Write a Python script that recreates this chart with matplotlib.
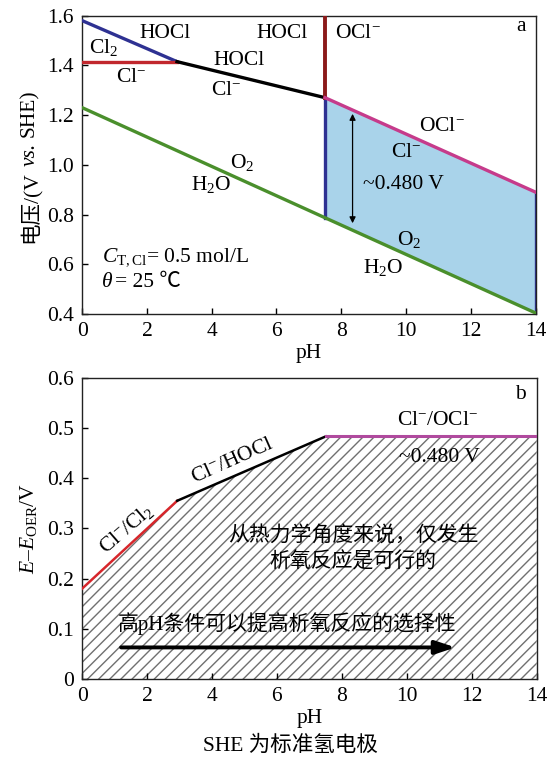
import matplotlib
matplotlib.use("Agg")
import matplotlib.pyplot as plt

plt.rcParams["font.family"] = ["Liberation Serif", "Noto Sans CJK SC"]
plt.rcParams["mathtext.fontset"] = "custom"
plt.rcParams["mathtext.rm"] = "Liberation Serif"
plt.rcParams["mathtext.it"] = "Liberation Serif:italic"
plt.rcParams["mathtext.bf"] = "Liberation Serif:bold"
plt.rcParams["hatch.linewidth"] = 1.0

FS = 15.5
CJK = ["Liberation Serif", "Noto Sans CJK SC"]

# ---- panel a: Pourbaix lines (pH, E vs SHE) ----
cl2_hocl_ph = [0, 2.93]
cl2_hocl_E = [1.58, 1.415]
cl2_cl_ph = [0, 2.93]
cl2_cl_E = [1.415, 1.415]
hocl_cl_ph = [2.93, 7.5]
hocl_cl_E = [1.415, 1.27]
hocl_ocl_ph = [7.5, 7.5]
hocl_ocl_E = [1.27, 1.6]
ocl_cl_ph = [7.5, 14]
ocl_cl_E = [1.27, 0.89]
oer_ph = [0, 7.5, 14]
oer_E = [1.23, 0.787, 0.404]
gap_ph = [7.5, 14]
gap_low = [0.787, 0.404]
gap_high = [1.27, 0.89]

# ---- panel b: E - E_OER ----
b_ph = [0, 2.93, 7.5, 14]
b_dE = [0.18, 0.355, 0.483, 0.483]

xticks = [0, 2, 4, 6, 8, 10, 12, 14]
a_yticks = [0.4, 0.6, 0.8, 1.0, 1.2, 1.4, 1.6]
b_yticks = [0, 0.1, 0.2, 0.3, 0.4, 0.5, 0.6]
b_ylabels = ["0", "0.1", "0.2", "0.3", "0.4", "0.5", "0.6"]

fig = plt.figure(figsize=(5.51, 7.63), dpi=100)
ax1 = fig.add_axes([0.149, 0.5885, 0.823, 0.391])
ax2 = fig.add_axes([0.149, 0.110, 0.825, 0.395])

for ax in (ax1, ax2):
    ax.set_xlim(0, 14)
    ax.set_xticks(xticks)
    ax.tick_params(direction="in", length=4, width=1, labelsize=FS, pad=6,
                   top=False, right=False)
    for s in ax.spines.values():
        s.set_linewidth(1.0)
        s.set_color("#222222")

# panel a
ax1.set_ylim(0.4, 1.6)
ax1.set_yticks(a_yticks)
ax1.set_yticklabels([f"{v:.1f}" for v in a_yticks])
ax1.fill_between(gap_ph, gap_low, gap_high, color="#a9d3ea", lw=0, zorder=1)
lw = 2.4
ax1.plot(oer_ph, oer_E, color="#4a8f2c", lw=lw, zorder=3)
ax1.plot(cl2_hocl_ph, cl2_hocl_E, color="#2e3192", lw=lw, zorder=3)
ax1.plot(cl2_cl_ph, cl2_cl_E, color="#c1272d", lw=lw, zorder=3)
ax1.plot(hocl_cl_ph, hocl_cl_E, color="black", lw=lw, zorder=3)
ax1.plot(hocl_ocl_ph, hocl_ocl_E, color="#8b1a1a", lw=lw + 0.4, zorder=3)
ax1.plot(ocl_cl_ph, ocl_cl_E, color="#c63b8b", lw=lw, zorder=3)
ax1.plot([gap_ph[0], gap_ph[0]], [gap_low[0], gap_high[0]], color="#2e3192", lw=lw, zorder=2)
ax1.plot([gap_ph[1], gap_ph[1]], [gap_low[1], gap_high[1]], color="#2e3192", lw=lw, zorder=2)
ax1.annotate("", xy=(8.35, 1.205), xytext=(8.35, 0.765),
             arrowprops=dict(arrowstyle="<|-|>", color="black", lw=0.9,
                             mutation_scale=9, shrinkA=0, shrinkB=0))

labels_a = [
    ("HOCl", 2.55, 1.53), (r"Cl$_2$", 0.67, 1.47), (r"Cl$^{-}$", 1.5, 1.35),
    ("HOCl", 4.85, 1.42), (r"Cl$^{-}$", 4.45, 1.30), ("HOCl", 6.18, 1.53),
    (r"OCl$^{-}$", 8.5, 1.53), (r"OCl$^{-}$", 11.1, 1.155), (r"Cl$^{-}$", 10.0, 1.05),
    ("~0.480 V", 9.93, 0.92), (r"O$_2$", 4.95, 1.01), (r"H$_2$O", 4.0, 0.92),
    (r"O$_2$", 10.1, 0.70), (r"H$_2$O", 9.3, 0.585), ("a", 13.55, 1.555),
]
for s, x, y in labels_a:
    ax1.text(x, y, s, fontsize=FS, ha="center", va="center", zorder=5)

ax1.text(0.62, 0.63, r"$C_{\mathrm{T,Cl}}$= 0.5 mol/L", fontsize=FS, ha="left", va="center")
th = ax1.text(0.62, 0.525, "θ", fontsize=FS, style="italic", ha="left", va="center")
ax1.annotate("= 25 ℃", xy=(1, 0), xycoords=th, xytext=(2, 0), textcoords="offset points",
             fontsize=FS, family=CJK, ha="left", va="bottom")
ax1.set_xlabel("pH", fontsize=FS, labelpad=2)

# rotated y label of panel a, built from pieces (italic "vs.")
p1 = fig.text(0.054, 0.775, "电压/(V", rotation=90, fontsize=FS, family=CJK,
              ha="center", va="top")
p2 = fig.add_artist(matplotlib.text.Annotation(
    "vs.", xy=(0.5, 1), xycoords=p1, xytext=(0, 4), textcoords="offset points",
    rotation=90, fontsize=FS, style="italic", ha="center", va="bottom"))
fig.add_artist(matplotlib.text.Annotation(
    "SHE)", xy=(0.5, 1), xycoords=p2, xytext=(0, 4), textcoords="offset points",
    rotation=90, fontsize=FS, ha="center", va="bottom"))

# panel b
ax2.set_ylim(0, 0.6)
ax2.set_yticks(b_yticks)
ax2.set_yticklabels(b_ylabels)
ax2.fill_between(b_ph, 0, b_dE, facecolor="white", edgecolor="#707070",
                 hatch="///", lw=0, zorder=1)
ax2.plot(b_ph[0:2], b_dE[0:2], color="#d7262b", lw=1.8, zorder=3)
ax2.plot(b_ph[1:3], b_dE[1:3], color="black", lw=1.8, zorder=3)
ax2.plot(b_ph[2:4], b_dE[2:4], color="#b04a9e", lw=2.2, zorder=3)

ax2.text(1.37, 0.298, r"Cl$^{-}$/Cl$_2$", fontsize=FS, rotation=41,
         ha="center", va="center", rotation_mode="anchor")
ax2.text(4.63, 0.433, r"Cl$^{-}$/HOCl", fontsize=FS, rotation=24,
         ha="center", va="center", rotation_mode="anchor")
ax2.text(10.95, 0.515, r"Cl$^{-}$/OCl$^{-}$", fontsize=FS, ha="center", va="center")
ax2.text(11.0, 0.441, "~0.480 V", fontsize=FS, ha="center", va="center")
ax2.text(13.5, 0.567, "b", fontsize=FS, ha="center", va="center")
ax2.text(8.37, 0.283, "从热力学角度来说，仅发生", fontsize=15, family=CJK,
         ha="center", va="center")
ax2.text(8.33, 0.232, "析氧反应是可行的", fontsize=15, family=CJK,
         ha="center", va="center")
ax2.text(6.3, 0.11, "高pH条件可以提高析氧反应的选择性", fontsize=15, family=CJK,
         ha="center", va="center")
ax2.annotate("", xy=(11.5, 0.063), xytext=(1.2, 0.063),
             arrowprops=dict(arrowstyle="-|>,head_length=1.2,head_width=0.4",
                             color="black", lw=2.8, shrinkA=0, shrinkB=0))
ax2.set_xlabel("pH", fontsize=FS, labelpad=2)
ax2.set_ylabel(r"$E$–$E_{\mathrm{OER}}$/V", fontsize=FS)
ax2.yaxis.set_label_coords(-0.095, 0.5)

fig.text(0.527, 1 - 746 / 763, "SHE 为标准氢电极", fontsize=FS, family=CJK,
         ha="center", va="center")

fig.savefig("out.png", dpi=100)
